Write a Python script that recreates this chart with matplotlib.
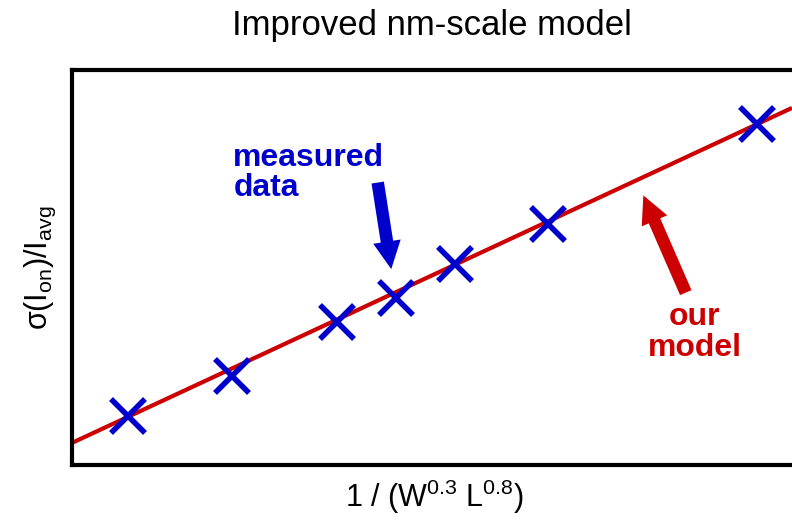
import numpy as np
import matplotlib
matplotlib.use("Agg")
import matplotlib.pyplot as plt

plt.rcParams['font.family'] = ['Liberation Sans', 'DejaVu Sans']
plt.rcParams['mathtext.fontset'] = 'custom'
plt.rcParams['mathtext.rm'] = 'Liberation Sans'
plt.rcParams['mathtext.it'] = 'Liberation Sans'

# measured points (arbitrary units)
meas_x = [0.78, 2.22, 3.68, 4.50, 5.32, 6.61, 9.51]
meas_y = [1.24, 2.25, 3.62, 4.23, 5.09, 6.10, 8.63]

# model line end points
model_x = [0.0, 10.0]
model_y = [0.56, 9.04]

fig = plt.figure(figsize=(7.92, 5.24), dpi=100)
ax = fig.add_axes([72 / 792, 1 - 465 / 524, 720 / 792, 395 / 524])

ax.plot(model_x, model_y, color='#cc0000', lw=3, zorder=2, solid_capstyle='butt')
ax.plot(meas_x, meas_y, 'x', color='#0000cc', ms=25, mew=4, zorder=3)

ax.set_xlim(0, 10)
ax.set_ylim(0, 10)
ax.set_xticks([])
ax.set_yticks([])
for side in ['left', 'top', 'bottom']:
    ax.spines[side].set_linewidth(3)
ax.spines['right'].set_visible(False)

arrow = 'simple,head_width=2.0,head_length=2.0,tail_width=0.9'

# annotations
ax.text(2.24, 8.15, 'measured\ndata', color='#0000cc', fontsize=23,
        fontweight='bold', ha='left', va='top', linespacing=1.0)
ax.annotate('', xy=(4.44, 4.89), xytext=(4.24, 7.22),
            arrowprops=dict(arrowstyle=arrow, color='#0000cc', lw=0))
ax.text(8.65, 4.12, 'our\nmodel', color='#cc0000', fontsize=23,
        fontweight='bold', ha='center', va='top', linespacing=1.05,
        multialignment='center')
ax.annotate('', xy=(7.92, 6.89), xytext=(8.54, 4.30),
            arrowprops=dict(arrowstyle=arrow, color='#cc0000', lw=0))

fig.text(432 / 792, 1 - 26 / 524, 'Improved nm-scale model', fontsize=25,
         ha='center', va='center')
fig.text(434 / 792, 1 - 497 / 524, r'$\mathregular{1\ /\ (W^{0.3}\ L^{0.8})}$',
         fontsize=22, ha='center', va='center')
fig.text(40 / 792, 1 - 268 / 524, r'$\mathregular{\sigma(I_{on})/I_{avg}}$',
         fontsize=22, ha='center', va='center', rotation=90)

fig.savefig('out.png', dpi=100)
